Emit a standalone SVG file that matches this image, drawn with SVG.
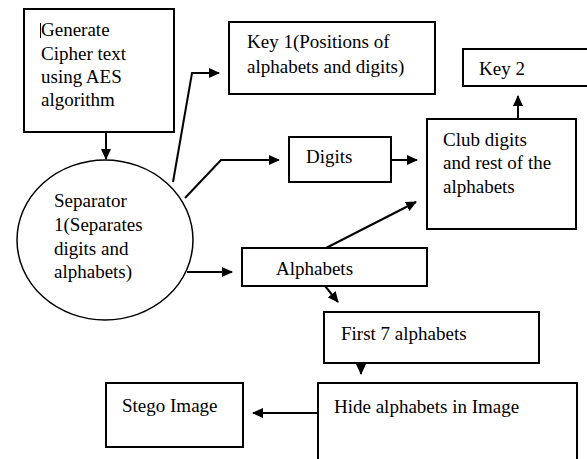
<svg xmlns="http://www.w3.org/2000/svg" width="587" height="459" viewBox="0 0 587 459">
<defs>
<marker id="ah" markerWidth="11" markerHeight="10" refX="10" refY="5" orient="auto" markerUnits="userSpaceOnUse">
<path d="M0,0 L11,5 L0,10 Z" fill="#000"/>
</marker>
</defs>
<rect width="587" height="459" fill="#fff"/>
<g id="connectors" fill="none" stroke="#000" stroke-width="2">
<line x1="106" y1="132" x2="106" y2="159" marker-end="url(#ah)"/>
<polyline points="173,182 192,73 219,73" marker-end="url(#ah)"/>
<polyline points="185,198 221,160 279,160" marker-end="url(#ah)"/>
<line x1="187" y1="272" x2="232" y2="272" marker-end="url(#ah)"/>
<line x1="391" y1="160" x2="417" y2="160" marker-end="url(#ah)"/>
<line x1="518" y1="119" x2="518" y2="96" marker-end="url(#ah)"/>
<line x1="326" y1="248" x2="416" y2="202" marker-end="url(#ah)"/>
<line x1="325" y1="286" x2="338" y2="302" marker-end="url(#ah)"/>
<line x1="361" y1="363" x2="361" y2="374" marker-end="url(#ah)"/>
<line x1="318" y1="413" x2="253" y2="413" marker-end="url(#ah)"/>
</g>
<g id="generate">
<rect x="24" y="9" width="150" height="123" fill="#fff" stroke="#000" stroke-width="2"/>
<line x1="40.5" y1="23" x2="40.5" y2="38" stroke="#000" stroke-width="1"/>
<text x="41" y="36" font-family="Times New Roman, serif" font-size="19">Generate</text>
<text x="41" y="60" font-family="Times New Roman, serif" font-size="19">Cipher text</text>
<text x="41" y="83" font-family="Times New Roman, serif" font-size="19">using AES</text>
<text x="41" y="106" font-family="Times New Roman, serif" font-size="19">algorithm</text>
</g>
<g id="separator">
<ellipse cx="105" cy="240" rx="88" ry="80" fill="#fff" stroke="#000" stroke-width="1.5"/>
<text x="54" y="207" font-family="Times New Roman, serif" font-size="19">Separator</text>
<text x="54" y="231" font-family="Times New Roman, serif" font-size="19">1(Separates</text>
<text x="54" y="255" font-family="Times New Roman, serif" font-size="19">digits and</text>
<text x="54" y="278" font-family="Times New Roman, serif" font-size="19">alphabets)</text>
</g>
<g id="key1">
<rect x="229" y="22" width="206" height="72" fill="#fff" stroke="#000" stroke-width="2"/>
<text x="247" y="48" font-family="Times New Roman, serif" font-size="19">Key 1(Positions of</text>
<text x="247" y="73" font-family="Times New Roman, serif" font-size="19">alphabets and digits)</text>
</g>
<g id="key2">
<rect x="463" y="49" width="140" height="37" fill="#fff" stroke="#000" stroke-width="2"/>
<text x="479" y="75" font-family="Times New Roman, serif" font-size="19">Key 2</text>
</g>
<g id="digits">
<rect x="289" y="137" width="102" height="45" fill="#fff" stroke="#000" stroke-width="2"/>
<text x="306" y="163" font-family="Times New Roman, serif" font-size="19">Digits</text>
</g>
<g id="club">
<rect x="427" y="119" width="149" height="110" fill="#fff" stroke="#000" stroke-width="2"/>
<text x="443" y="146" font-family="Times New Roman, serif" font-size="19">Club digits</text>
<text x="443" y="169" font-family="Times New Roman, serif" font-size="19">and rest of the</text>
<text x="443" y="193" font-family="Times New Roman, serif" font-size="19">alphabets</text>
</g>
<g id="alphabets">
<rect x="242" y="248" width="185" height="38" fill="#fff" stroke="#000" stroke-width="2"/>
<text x="276" y="275" font-family="Times New Roman, serif" font-size="19">Alphabets</text>
</g>
<g id="first7">
<rect x="324" y="312" width="215" height="51" fill="#fff" stroke="#000" stroke-width="2"/>
<text x="341" y="340" font-family="Times New Roman, serif" font-size="19">First 7 alphabets</text>
</g>
<g id="hide">
<rect x="318" y="383" width="259" height="90" fill="#fff" stroke="#000" stroke-width="2"/>
<text x="334" y="413" font-family="Times New Roman, serif" font-size="19">Hide alphabets in Image</text>
</g>
<g id="stego">
<rect x="106" y="383" width="137" height="64" fill="#fff" stroke="#000" stroke-width="2"/>
<text x="122" y="412" font-family="Times New Roman, serif" font-size="19">Stego Image</text>
</g>
</svg>
